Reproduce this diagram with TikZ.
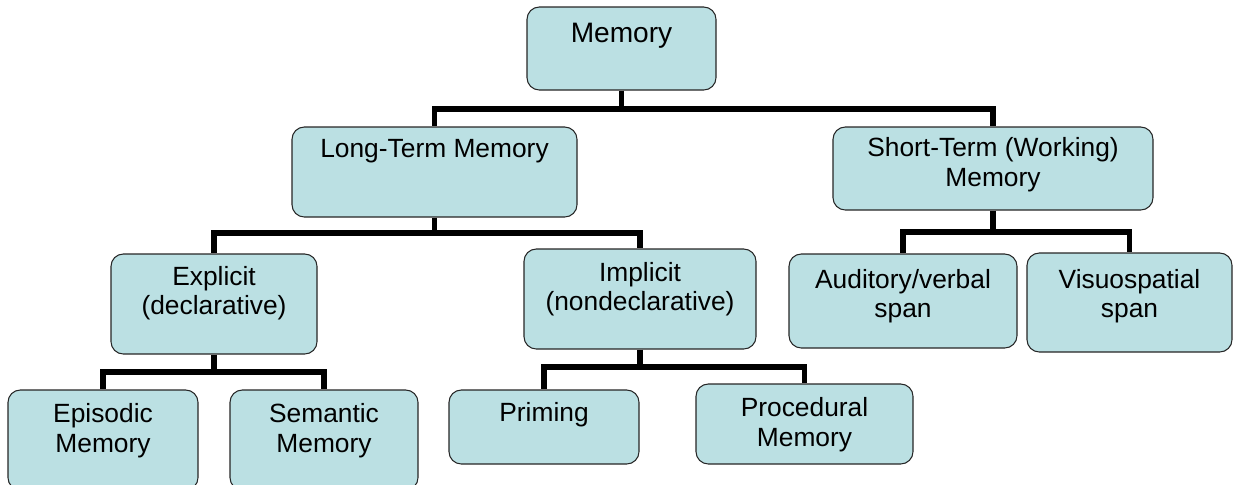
\documentclass[tikz,border=0pt]{standalone}
\usepackage{fontspec}
\setmainfont{Liberation Sans}
\usepackage{tikz}
\usetikzlibrary{positioning}
\usetikzlibrary{fit}
\definecolor{boxfill}{RGB}{187,224,227}
\tikzset{
  box/.style={draw=black!85, line width=0.6pt, fill=boxfill, rounded corners=7pt, inner sep=0pt},
  txt/.style={anchor=north, align=center, inner sep=0pt, font=\fontsize{15}{17}\selectfont, execute at begin node=\strut},
  link/.style={line width=3.2pt}
}

\begin{document}
\begin{tikzpicture}[x=0.02cm, y=-0.02cm]
  \useasboundingbox (0,0) rectangle (1233,484);
  % boxes
  \node[box, fit={(527,7) (716,90)}] (mem) {};
  \node[box, fit={(292,127) (577,217)}] (ltm) {};
  \node[box, fit={(833,127) (1153,210)}] (stm) {};
  \node[box, fit={(111,254) (317,354)}] (exp) {};
  \node[box, fit={(524,249) (756,349)}] (imp) {};
  \node[box, fit={(789,254) (1017,348)}] (aud) {};
  \node[box, fit={(1027,253) (1232,352)}] (vis) {};
  \node[box, fit={(8,390) (198,490)}] (epi) {};
  \node[box, fit={(230,390) (418,490)}] (sem) {};
  \node[box, fit={(449,390) (639,464)}] (pri) {};
  \node[box, fit={(696,384) (913,464)}] (pro) {};

  % texts
  \node[txt, font=\fontsize{16}{18.2}\selectfont, below=7.7pt of mem.north] (memtxt) {Memory};
  \node[txt, below=5.7pt of ltm.north] (ltmtxt) {Long-Term Memory};
  \node[txt, below=6.3pt of stm.north] (stmtxt) {Short-Term (Working)\\Memory};
  \node[txt, below=6.9pt of exp.north] (exptxt) {Explicit\\(declarative)};
  \node[txt, below=7.5pt of imp.north] (imptxt) {Implicit\\(nondeclarative)};
  \node[txt, below=8.6pt of aud.north] (audtxt) {Auditory/verbal\\span};
  \node[txt, below=9.2pt of vis.north] (vistxt) {Visuospatial\\span};
  \node[txt, below=8pt of epi.north] (epitxt) {Episodic\\Memory};
  \node[txt, below=8pt of sem.north] (semtxt) {Semantic\\Memory};
  \node[txt, below=6.3pt of pri.north] (pritxt) {Priming};
  \node[txt, below=8pt of pro.north] (protxt) {Procedural\\Memory};

  % tree lines
  \coordinate (b0) at (mem.south |- 0,109);
  \draw[link] (mem.south) -- (b0);
  \draw[link] (b0) -| (ltm.north);
  \draw[link] (b0) -| (stm.north);

  \coordinate (b1) at (ltm.south |- 0,233);
  \draw[link] (ltm.south) -- (b1);
  \draw[link] (b1) -| (exp.north);
  \draw[link] (b1) -| (imp.north);

  \coordinate (b2) at (stm.south |- 0,232);
  \draw[link] (stm.south) -- (b2);
  \draw[link] (b2) -| (aud.north);
  \draw[link] (b2) -| (vis.north);

  \coordinate (b3) at (exp.south |- 0,372);
  \draw[link] (exp.south) -- (b3);
  \draw[link] (b3) -| (epi.north);
  \draw[link] (b3) -| (sem.north);

  \coordinate (b4) at (imp.south |- 0,367);
  \draw[link] (imp.south) -- (b4);
  \draw[link] (b4) -| (pri.north);
  \draw[link] (b4) -| (pro.north);
\end{tikzpicture}
\end{document}
